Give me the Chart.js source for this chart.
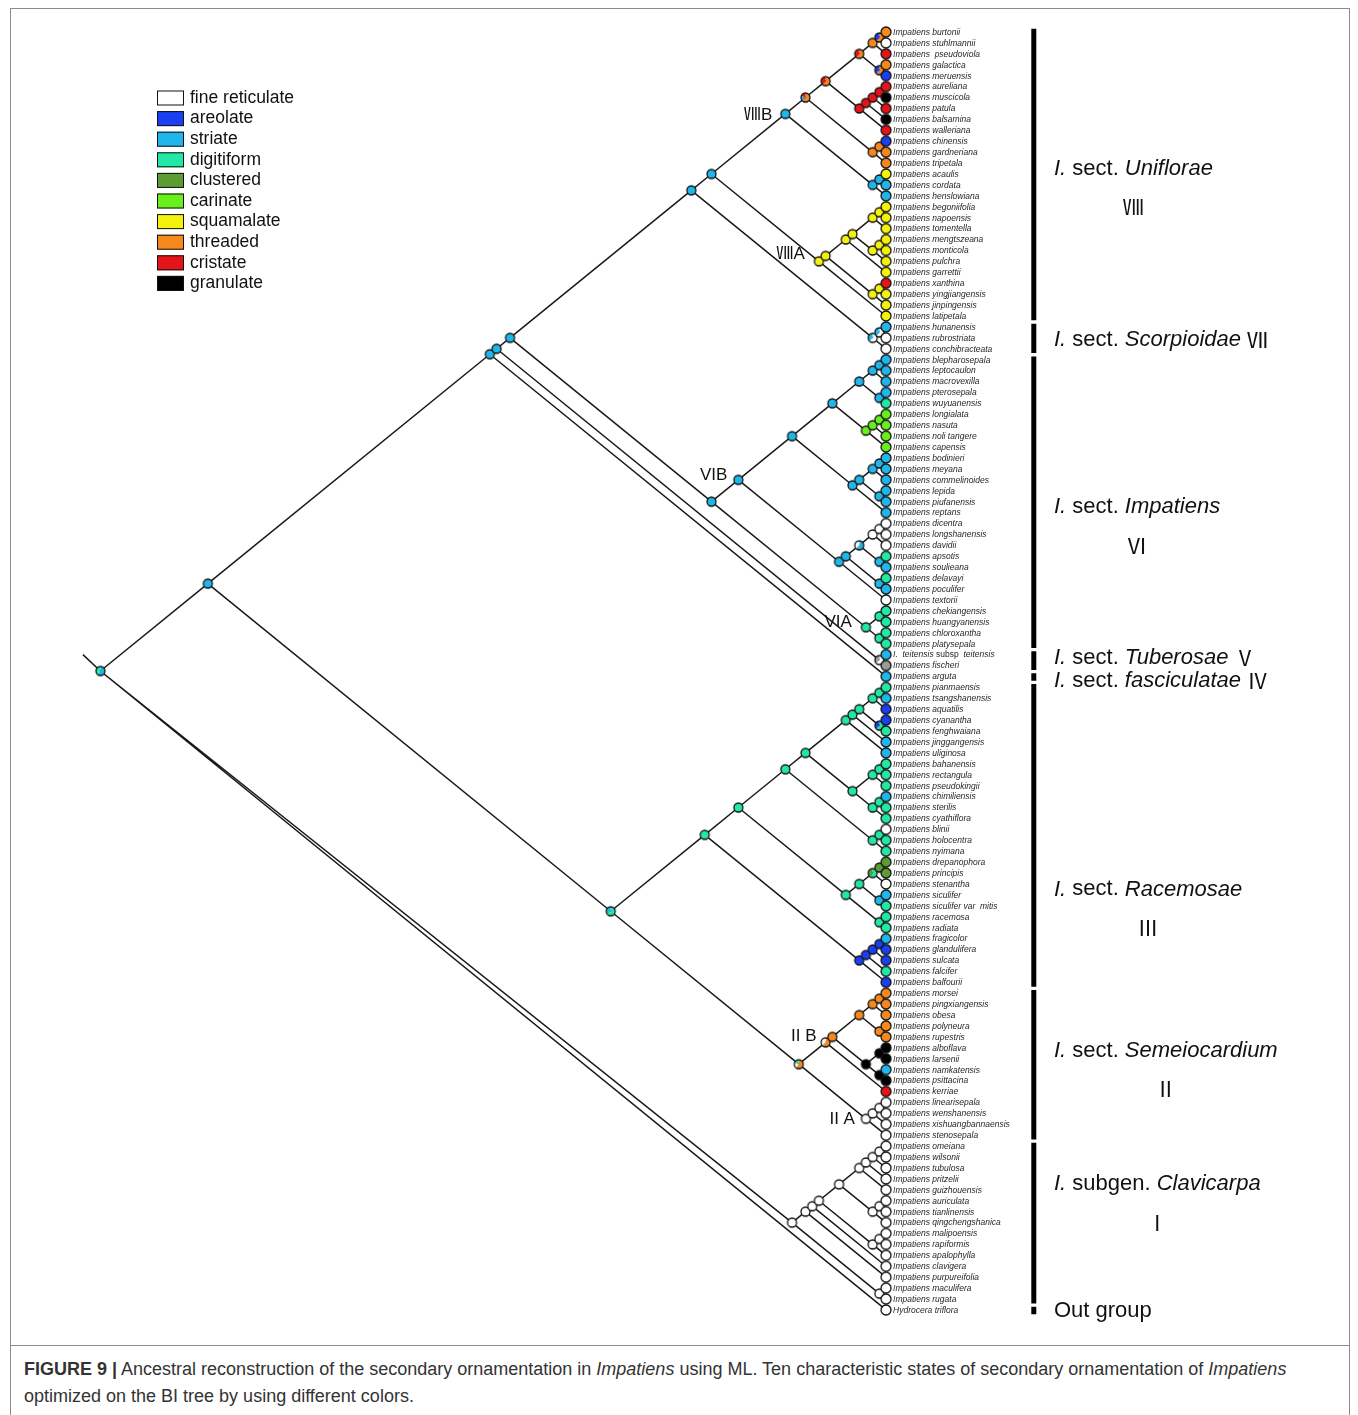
<!DOCTYPE html>
<html><head><meta charset="utf-8">
<script src="https://cdn.jsdelivr.net/npm/chart.js@4.4.0/dist/chart.umd.min.js"></script>
<style>
html,body{margin:0;padding:0;background:#fff;}
#wrap{position:relative;width:1358px;height:1415px;overflow:hidden;}
#frame{position:absolute;left:10px;top:8px;width:1340px;height:1440px;border:1px solid #8c8c8c;box-sizing:border-box;}
#sep{position:absolute;left:10px;top:1345px;width:1340px;height:1px;background:#8c8c8c;}
#box{position:absolute;left:0;top:0;width:1358px;height:1345px;}
#cap{position:absolute;left:24px;top:1356px;width:1320px;font:18px "Liberation Sans",Arial,sans-serif;color:#333;line-height:27px;white-space:nowrap;}
</style></head>
<body><div id="wrap"><div id="frame"></div><div id="sep"></div>
<div id="box"><canvas id="c" width="1358" height="1345"></canvas></div>
<div id="cap"><b>FIGURE 9 |</b> Ancestral reconstruction of the secondary ornamentation in <i>Impatiens</i> using ML. Ten characteristic states of secondary ornamentation of <i>Impatiens</i><br>optimized on the BI tree by using different colors.</div>
</div>
<script>
// ---------- DATA ----------
const tipNames = [
 "Impatiens burtonii","Impatiens stuhlmannii","Impatiens  pseudoviola","Impatiens galactica","Impatiens meruensis",
 "Impatiens aureliana","Impatiens muscicola","Impatiens patula","Impatiens balsamina","Impatiens walleriana",
 "Impatiens chinensis","Impatiens gardneriana","Impatiens tripetala","Impatiens acaulis","Impatiens cordata",
 "Impatiens henslowiana","Impatiens begoniifolia","Impatiens napoensis","Impatiens tomentella","Impatiens mengtszeana",
 "Impatiens monticola","Impatiens pulchra","Impatiens garrettii","Impatiens xanthina","Impatiens yingjiangensis",
 "Impatiens jinpingensis","Impatiens latipetala",
 "Impatiens hunanensis","Impatiens rubrostriata","Impatiens conchibracteata",
 "Impatiens blepharosepala","Impatiens leptocaulon","Impatiens macrovexilla","Impatiens pterosepala","Impatiens wuyuanensis",
 "Impatiens longialata","Impatiens nasuta","Impatiens noli tangere","Impatiens capensis","Impatiens bodinieri",
 "Impatiens meyana","Impatiens commelinoides","Impatiens lepida","Impatiens piufanensis","Impatiens reptans",
 "Impatiens dicentra","Impatiens longshanensis","Impatiens davidii","Impatiens apsotis","Impatiens soulieana",
 "Impatiens delavayi","Impatiens poculifer","Impatiens textorii","Impatiens chekiangensis","Impatiens huangyanensis",
 "Impatiens chloroxantha","Impatiens platysepala",
 "I.  teitensis |subsp|  teitensis","Impatiens fischeri",
 "Impatiens arguta",
 "Impatiens pianmaensis","Impatiens tsangshanensis","Impatiens aquatilis","Impatiens cyanantha","Impatiens fenghwaiana",
 "Impatiens jinggangensis","Impatiens uliginosa","Impatiens bahanensis","Impatiens rectangula","Impatiens pseudokingii",
 "Impatiens chimiliensis","Impatiens sterilis","Impatiens cyathiflora","Impatiens blinii","Impatiens holocentra",
 "Impatiens nyimana","Impatiens drepanophora","Impatiens principis","Impatiens stenantha","Impatiens siculifer",
 "Impatiens siculifer var  mitis","Impatiens racemosa","Impatiens radiata","Impatiens fragicolor","Impatiens glandulifera",
 "Impatiens sulcata","Impatiens falcifer","Impatiens balfourii",
 "Impatiens morsei","Impatiens pingxiangensis","Impatiens obesa","Impatiens polyneura","Impatiens rupestris",
 "Impatiens alboflava","Impatiens larsenii","Impatiens namkatensis","Impatiens psittacina","Impatiens kerriae",
 "Impatiens linearisepala","Impatiens wenshanensis","Impatiens xishuangbannaensis","Impatiens stenosepala",
 "Impatiens omeiana","Impatiens wilsonii","Impatiens tubulosa","Impatiens pritzelii","Impatiens guizhouensis",
 "Impatiens auriculata","Impatiens tianlinensis","Impatiens qingchengshanica","Impatiens malipoensis","Impatiens rapiformis",
 "Impatiens apalophylla","Impatiens clavigera","Impatiens purpureifolia","Impatiens maculifera","Impatiens rugata",
 "Hydrocera triflora"
];
// state codes: W fine reticulate, A areolate, S striate, D digitiform, C clustered, K carinate,
// Q squamalate, T threaded, R cristate, G granulate, X grey (ambiguous)
const tipStates = [
 "T","W","R","T","A","R","G","R","G","R","A","T","T","Q","S","S","Q","Q","Q","Q","Q","Q","Q","R","Q","Q","Q",
 "S","W","W",
 "S","S","S","S","D","K","K","K","K","S","S","S","S","S","S","W","W","W","D","S","D","S","W","D","D","D","D",
 "S","X",
 "S",
 "D","S","A","A","D","S","S","D","D","D","S","D","D","W","D","D","C","C","W","S","D","D","D","S","A","A","D","A",
 "T","T","T","T","T","G","G","S","G","R","W","W","W","W",
 "W","W","W","W","W","W","W","W","W","W","W","W","W","W","W",
 "W"
];
// clades: [first tip, last tip, reconstructed state(s)]
const clades = [
 [0,117,"SD"],[0,101,"S"],[0,59,"S"],[0,58,"S"],[0,56,"S"],[0,29,"S"],[0,26,"S"],
 [0,15,"S"],[0,12,"TSR"],[0,9,"TR"],[0,4,"TR"],[0,2,"T"],[0,1,"TA"],[3,4,"TA"],
 [5,9,"R"],[5,8,"R"],[5,7,"R"],[5,6,"R"],[10,12,"T"],[10,11,"T"],[13,15,"S"],[13,14,"S"],
 [16,26,"Q"],[16,25,"Q"],[16,22,"Q"],[16,21,"Q"],[16,18,"Q"],[16,17,"Q"],[19,21,"Q"],[19,20,"Q"],[23,25,"Q"],[23,24,"Q"],
 [27,29,"WS"],[27,28,"WS"],
 [30,56,"S"],[30,52,"S"],[30,44,"S"],[30,38,"S"],[30,34,"S"],[30,32,"S"],[30,31,"S"],[33,34,"S"],
 [35,38,"K"],[35,37,"K"],[35,36,"K"],
 [39,44,"S"],[39,43,"S"],[39,41,"S"],[39,40,"S"],[42,43,"S"],
 [45,52,"S"],[45,51,"S"],[45,49,"SW"],[45,47,"W"],[45,46,"W"],[48,49,"S"],[50,51,"S"],
 [53,56,"D"],[53,54,"D"],[55,56,"D"],
 [57,58,"WX"],
 [60,101,"DS"],[60,87,"D"],[60,82,"D"],[60,75,"D"],[60,72,"D"],[60,66,"D"],[60,65,"D"],[60,64,"D"],[60,62,"D"],[60,61,"D"],[63,64,"DA"],
 [67,72,"D"],[67,69,"D"],[67,68,"D"],[70,72,"D"],[70,71,"D"],[73,75,"D"],[73,74,"D"],
 [76,82,"D"],[76,80,"D"],[76,78,"DC"],[76,77,"C"],[79,80,"S"],[81,82,"D"],
 [83,87,"A"],[83,86,"A"],[83,85,"A"],[83,84,"A"],
 [88,101,"TWD"],[88,97,"TW"],[88,96,"T"],[88,92,"T"],[88,90,"T"],[88,89,"T"],[91,92,"T"],[93,96,"G"],[93,94,"G"],[95,96,"G"],
 [98,101,"W"],[98,100,"W"],[98,99,"W"],
 [102,116,"W"],[102,114,"W"],[102,113,"W"],[102,112,"W"],[102,109,"W"],[102,106,"W"],[102,105,"W"],[102,104,"W"],[102,103,"W"],
 [107,109,"W"],[107,108,"W"],[110,112,"W"],[110,111,"W"],[115,116,"W"]
];
const stateOrder = ["W","A","S","D","C","K","Q","T","R","G"];
const stateNames = ["fine reticulate","areolate","striate","digitiform","clustered","carinate","squamalate","threaded","cristate","granulate"];
const stateColors = {W:"#ffffff",A:"#1a3ff0",S:"#1fb6ec",D:"#22e8a6",C:"#5b9c33",K:"#69ef1c",Q:"#f4f20c",T:"#f5891d",R:"#e5131a",G:"#000000",X:"#9a9a9a"};
const sections = [
 {label:"_I._ sect. _Uniflorae_", num:"Ⅷ", first:0, last:26},
 {label:"_I._ sect. _Scorpioidae_", num:"Ⅶ", first:27, last:29},
 {label:"_I._ sect. _Impatiens_", num:"Ⅵ", first:30, last:56},
 {label:"_I._ sect. _Tuberosae_", num:"Ⅴ", first:57, last:58},
 {label:"_I._ sect. _fasciculatae_", num:"Ⅳ", first:59, last:59},
 {label:"_I._ sect. _Racemosae_", num:"Ⅲ", first:60, last:87},
 {label:"_I._ sect. _Semeiocardium_", num:"Ⅱ", first:88, last:101},
 {label:"_I._ subgen. _Clavicarpa_", num:"Ⅰ", first:102, last:116},
 {label:"Out group", num:"", first:117, last:117}
];
// ---------- LAYOUT / STYLE ----------
const labelRows = [12.55, 28.2, 43.5, 57.3, 59.4, 78.5, 93.3, 105.5, 117.1];
const numeralRows = [16.0, null, 47.1, null, null, 82.0, 96.8, 109.0, null];
const cladeLabels = [
 {text:"ⅧB", clade:[0,15], dx:-13, dy:1},
 {text:"ⅧA", clade:[16,26], dx:-14, dy:-7},
 {text:"VIB", clade:[30,52], dx:-11, dy:-5},
 {text:"VIA", clade:[53,56], dx:-14, dy:-5},
 {text:"II B", clade:[88,97], dx:-9, dy:-6},
 {text:"II A", clade:[98,101], dx:-11, dy:1}
];
const BAR_X = 11, LABEL_X = 12.5;

function cladePos(a,b){ return {x:-(b-a)/2, y:(a+b)/2}; }
function parentOf(a,b){
  let best=null;
  for(const c of clades){
    if(c[0]<=a && c[1]>=b && (c[1]-c[0])>(b-a)){
      if(!best || (c[1]-c[0])<(best[1]-best[0])) best=c;
    }
  }
  return best;
}
function marker(code,d){
  const s=Math.ceil(d+4); const cv=document.createElement('canvas'); cv.width=s; cv.height=s;
  const g=cv.getContext('2d'); const cx=s/2, cy=s/2, r=d/2;
  const parts=code.split('');
  const w=parts.length===1?[1]:parts.map((p,i)=>i===0?0.62:0.38/(parts.length-1));
  let ang=-Math.PI/2;
  parts.forEach((p,i)=>{g.beginPath();g.moveTo(cx,cy);g.arc(cx,cy,r,ang,ang+w[i]*2*Math.PI);g.closePath();g.fillStyle=stateColors[p];g.fill();ang+=w[i]*2*Math.PI;});
  g.beginPath();g.arc(cx,cy,r,0,2*Math.PI);g.lineWidth=1.3;g.strokeStyle='#111';g.stroke();
  return cv;
}
const cache={};
function mk(code,d){const k=code+d; if(!cache[k]) cache[k]=marker(code,d); return cache[k];}

// edges
const edgePts=[];
for(const c of clades){
  const p=parentOf(c[0],c[1]); if(!p) continue;
  edgePts.push(cladePos(p[0],p[1]), cladePos(c[0],c[1]), {x:null,y:null});
}
tipNames.forEach((n,i)=>{
  const p=parentOf(i,i); edgePts.push(cladePos(p[0],p[1]), {x:0,y:i}, {x:null,y:null});
});
const root=clades[0]; const rp=cladePos(root[0],root[1]);
edgePts.push(rp,{x:rp.x-1.3,y:rp.y-1.5},{x:null,y:null});

// nodes
const nodePts=[], nodeStyles=[];
clades.forEach(c=>{nodePts.push(cladePos(c[0],c[1])); nodeStyles.push(mk(c[2],9));});
tipStates.forEach((s,i)=>{nodePts.push({x:0,y:i}); nodeStyles.push(mk(s,10));});

// section bars
const barPts=[];
sections.forEach(s=>{barPts.push({x:BAR_X,y:s.first-0.3},{x:BAR_X,y:s.last+0.4},{x:null,y:null});});

function drawRich(ctx,text,x,y,size,delim,startItalic,family,weight){
  const parts=text.split(delim); let it=startItalic; let cx=x;
  for(const p of parts){
    ctx.font=(it?'italic ':'')+(weight||'')+' '+size+'px '+family;
    ctx.fillText(p,cx,y); cx+=ctx.measureText(p).width; it=!it;
  }
  return cx;
}
const SANS='"Liberation Sans", Arial, sans-serif';
const CJK='"Noto Sans CJK SC", "Liberation Sans", sans-serif';

const textPlugin={id:'texts',afterDatasetsDraw(chart){
  const ctx=chart.ctx, xs=chart.scales.x, ys=chart.scales.y;
  ctx.save();
  ctx.textBaseline='middle'; ctx.textAlign='left';
  // tip labels
  ctx.fillStyle='#262626';
  const tx=xs.getPixelForValue(0)+7;
  tipNames.forEach((n,i)=>drawRich(ctx,n,tx,ys.getPixelForValue(i)+0.5,8.5,'|',true,SANS));
  // clade labels
  ctx.fillStyle='#111';
  cladeLabels.forEach(l=>{
    const p=cladePos(l.clade[0],l.clade[1]);
    ctx.font='17px '+SANS+', "Noto Sans CJK SC"'; ctx.textAlign='right';
    ctx.fillText(l.text,xs.getPixelForValue(p.x)+l.dx,ys.getPixelForValue(p.y)+l.dy);
  });
  ctx.textAlign='left';
  // section labels
  const lx=xs.getPixelForValue(LABEL_X);
  sections.forEach((s,i)=>{
    const y=ys.getPixelForValue(labelRows[i]);
    const end=drawRich(ctx,s.label,lx,y,22,'_',false,SANS);
    if(!s.num) return;
    ctx.font='21px '+CJK;
    if(numeralRows[i]===null){ ctx.fillText(s.num,end+6,y); }
    else { ctx.textAlign='center'; ctx.fillText(s.num,(lx+end)/2,ys.getPixelForValue(numeralRows[i])); ctx.textAlign='left'; }
  });
  // legend
  ctx.font='17.5px '+SANS;
  stateOrder.forEach((s,i)=>{
    const y=98+i*20.6;
    ctx.fillStyle=stateColors[s]; ctx.fillRect(157,y-7.5,27,15);
    ctx.strokeStyle='#111'; ctx.lineWidth=1; ctx.strokeRect(157.5,y-7,26,14);
    ctx.fillStyle='#111'; ctx.fillText(stateNames[i],190,y);
  });
  ctx.restore();
}};

new Chart(document.getElementById('c'),{
  type:'scatter',
  data:{datasets:[
    {label:'nodes',data:nodePts,pointStyle:nodeStyles,pointRadius:5,order:0},
    {label:'branches',data:edgePts,showLine:true,spanGaps:false,borderColor:'#1a1a1a',borderWidth:1.5,pointRadius:0,order:2},
    {label:'sections',data:barPts,showLine:true,spanGaps:false,borderColor:'#000',borderWidth:5,borderCapStyle:'butt',pointRadius:0,order:3}
  ]},
  options:{responsive:false,animation:false,events:[],
    layout:{padding:{left:66.8,right:15.3,top:10.15,bottom:13.2}},
    scales:{x:{type:'linear',min:-61,max:34,display:false},y:{type:'linear',min:-2,max:119,reverse:true,display:false}},
    plugins:{legend:{display:false},tooltip:{enabled:false}}},
  plugins:[textPlugin]
});
</script>
</body></html>
